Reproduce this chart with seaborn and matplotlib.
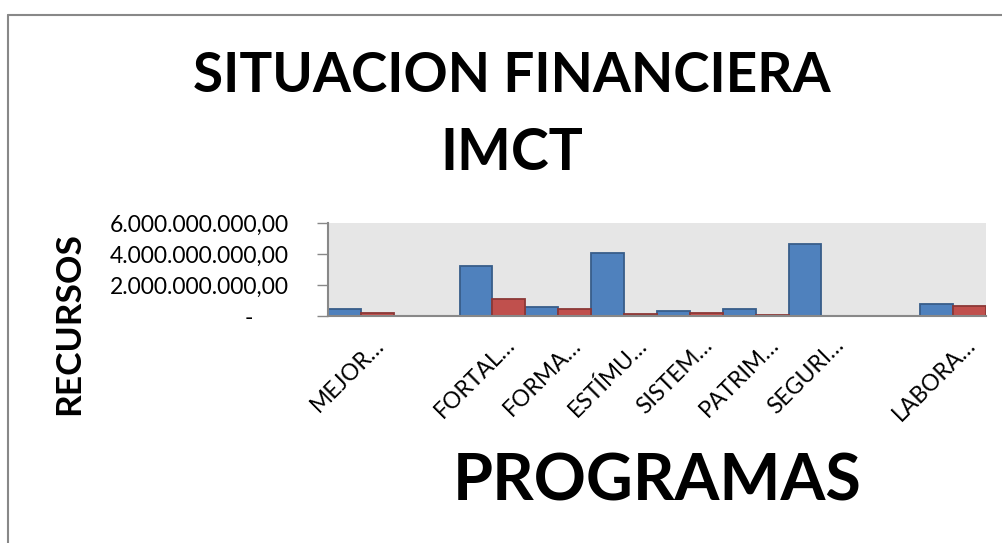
import numpy as np
import pandas as pd
import matplotlib.pyplot as plt
import matplotlib.ticker as mticker
import matplotlib.transforms as mtransforms
from matplotlib.lines import Line2D
import seaborn as sns

# datos (valores en pesos)
programas = ["MEJOR…", "", "FORTAL…", "FORMA…", "ESTÍMU…", "SISTEM…",
             "PATRIM…", "SEGURI…", "", "LABORA…"]
serie_1 = [0.45e9, np.nan, 3.21e9, 0.60e9, 4.08e9, 0.30e9, 0.43e9, 4.67e9, np.nan, 0.78e9]
serie_2 = [0.20e9, np.nan, 1.13e9, 0.43e9, 0.10e9, 0.17e9, 0.08e9, 0.0, np.nan, 0.67e9]
y_ticks = [0, 2e9, 4e9, 6e9]

sns.set_theme(style="white")
plt.rcParams['font.family'] = ['Lato', 'DejaVu Sans']
plt.rcParams['text.color'] = 'black'
plt.rcParams['xtick.color'] = 'black'
plt.rcParams['ytick.color'] = 'black'

n = len(programas)
df = pd.DataFrame({
    "pos": list(range(n)) * 2,
    "valor": serie_1 + serie_2,
    "serie": ["Serie 1"] * n + ["Serie 2"] * n,
})

fig = plt.figure(figsize=(10.03, 5.43), dpi=100)
ax = fig.add_axes([0.327, 0.418, 0.656, 0.171])

sns.barplot(data=df, x="pos", y="valor", hue="serie", order=list(range(n)),
            palette=["#4F81BD", "#C0504D"], saturation=1, width=1.0, gap=0,
            legend=False, linewidth=1.3, errorbar=None, ax=ax)

# bordes mas oscuros como en Excel
for bars, ec in zip(ax.containers, ["#385D8A", "#8C3836"]):
    for b in bars:
        b.set_edgecolor(ec)

ax.set_facecolor("#E6E6E6")
ax.set_xlim(-0.5, n - 0.5)
ax.set_ylim(0, 6e9)
ax.set_yticks(y_ticks)

def fmt(v, pos):
    if v == 0:
        return "-      "
    s = f"{v:,.2f}"
    return s.replace(",", "X").replace(".", ",").replace("X", ".")

ax.yaxis.set_major_formatter(mticker.FuncFormatter(fmt))
ax.tick_params(axis="y", left=True, length=8, width=1, color="#888888",
               pad=20, labelsize=16.5, labelcolor="black")
ax.tick_params(axis="x", bottom=False, pad=7, labelsize=16.5, labelcolor="black")
ax.set_xticks(range(n))
ax.set_xticklabels(programas, rotation=45, ha="right", va="top",
                   rotation_mode="anchor")
shift = mtransforms.ScaledTranslation(12 / 100, 0, fig.dpi_scale_trans)
for lab in ax.get_xticklabels():
    lab.set_transform(lab.get_transform() + shift)
for sp in ["top", "right"]:
    ax.spines[sp].set_visible(False)
for sp in ["left", "bottom"]:
    ax.spines[sp].set_color("#888888")
    ax.spines[sp].set_linewidth(1.5)
ax.set_xlabel("")
ax.set_ylabel("")

# titulos
fig.text(0.510, 0.860, "SITUACION FINANCIERA", ha="center", va="center",
         fontsize=39.5, fontweight="bold")
fig.text(0.510, 0.718, "IMCT", ha="center", va="center",
         fontsize=41, fontweight="bold")
fig.text(0.655, 0.112, "PROGRAMAS", ha="center", va="center",
         fontsize=46.5, fontweight="bold")
fig.text(0.069, 0.405, "RECURSOS", ha="center", va="center", rotation=90,
         fontsize=25.5, fontweight="bold")

# marco del grafico
x0 = 8.5 / 1003
y0 = 1 - 14.5 / 543
fig.add_artist(Line2D([x0, x0], [0, y0], color="#888888", lw=1.5))
fig.add_artist(Line2D([x0, 1], [y0, y0], color="#888888", lw=1.5))

fig.savefig("out.png", dpi=100)
